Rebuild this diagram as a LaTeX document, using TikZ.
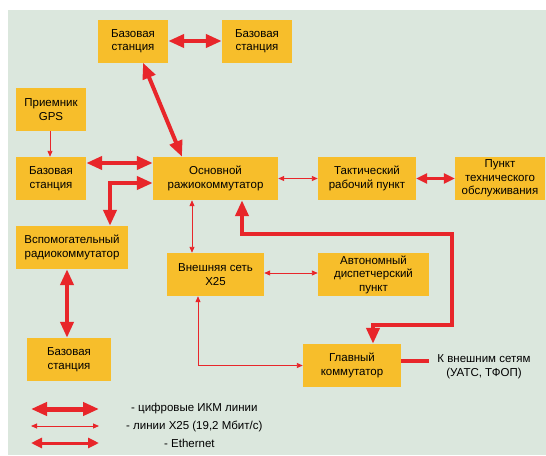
\documentclass[tikz,border=0pt]{standalone}
\usepackage{fontspec}
\setmainfont{Liberation Sans}
\usetikzlibrary{arrows.meta}

\definecolor{bggreen}{RGB}{219,231,221}
\definecolor{boxorange}{RGB}{247,190,43}
\definecolor{linered}{RGB}{232,38,42}

\begin{document}
\begin{tikzpicture}[x=1pt,y=-1pt,
    box/.style={fill=boxorange,align=center,inner sep=0pt,minimum height=43pt,
      font=\fontsize{11.5}{13.5}\selectfont},
    lbl/.style={align=center,inner sep=0pt,font=\fontsize{11.5}{13.5}\selectfont},
    ikm/.style={linered,line width=4pt,
      {Triangle[length=16pt,width=13pt]}-{Triangle[length=16pt,width=13pt]}},
    eth/.style={linered,line width=2.5pt,
      {Triangle[length=11pt,width=10pt]}-{Triangle[length=11pt,width=10pt]}},
    xline/.style={linered,line width=0.9pt,
      {Triangle[length=6pt,width=5pt]}-{Triangle[length=6pt,width=5pt]}}]

  \useasboundingbox (0,0) rectangle (546,455);
  \fill[bggreen] (8,10) rectangle (546,455);

  % blocks
  \node[box,minimum width=70pt]  (bsA)  at (133,41)    {Базовая\\станция};
  \node[box,minimum width=70pt]  (bsB)  at (257,41)    {Базовая\\станция};
  \node[box,minimum width=70pt]  (gps)  at (51,109.5)  {Приемник\\GPS};
  \node[box,minimum width=70pt]  (bsL)  at (51,178.5)  {Базовая\\станция};
  \node[box,minimum width=125pt] (core) at (215.5,178.5) {Основной\\ражиокоммутатор};
  \node[box,minimum width=98pt]  (tact) at (367,178.5) {Тактический\\рабочий пункт};
  \node[box,minimum width=90pt]  (serv) at (500,178.5) {Пункт\\технического\\обслуживания};
  \node[box,minimum width=112pt] (aux)  at (72,247.5)  {Вспомогательный\\радиокоммутатор};
  \node[box,minimum width=97pt]  (x25)  at (215.5,274.5) {Внешняя сеть\\X25};
  \node[box,minimum width=111pt] (auto) at (373.5,274.5) {Автономный\\диспетчерский\\пункт};
  \node[box,minimum width=84pt]  (bsD)  at (69,359.5)  {Базовая\\станция};
  \node[box,minimum width=98pt]  (main) at (352,365.5) {Главный\\коммутатор};
  \node[lbl] (ext) at (484,366.5) {К внешним сетям\\(УАТС, ТФОП)};

  % links
  \draw[ikm] (bsA) -- (bsB);
  \draw[ikm] ([xshift=10pt]bsA.south) -- ([xshift=-33.5pt]core.north);
  \draw[linered,line width=0.9pt,-{Triangle[length=6pt,width=5pt]}] ([xshift=-1pt]gps.south) -- ([xshift=-1pt]bsL.north);
  \draw[ikm] ([yshift=15.5pt]bsL.east) -- ([yshift=15.5pt]core.west);
  \draw[ikm,line join=miter] ([yshift=-4.5pt]core.west) -| ([xshift=38pt]aux.north);
  \draw[xline] (core.east) -- (tact.west);
  \draw[eth] (tact.east) -- (serv.west);
  \draw[xline] ([xshift=-23.5pt]core.south) -- ([xshift=-23.5pt]x25.north);
  \draw[xline] ([yshift=1.5pt]x25.east) -- ([yshift=1.5pt]auto.west);
  \draw[ikm] ([xshift=-5pt]aux.south) -- ([xshift=-2pt]bsD.north);
  \draw[xline] ([xshift=-17.5pt]x25.south) |- (main.west);

  \coordinate (turnA) at (452,234);
  \coordinate (turnB) at (452,325);
  \draw[ikm,line join=miter] ([xshift=26.5pt]core.south) |- (turnA) -- (turnB) -| ([xshift=21pt]main.north);

  \coordinate (extEnd) at (429,361);
  \draw[linered,line width=4pt] (main.east |- extEnd) -- (extEnd);

  % legend
  \coordinate (ikmL) at (31,409);  \coordinate (ikmR) at (99,409);
  \coordinate (x25L) at (31,426);  \coordinate (x25R) at (99,426);
  \coordinate (ethL) at (31,443);  \coordinate (ethR) at (99,443);
  \draw[ikm,line width=5pt] (ikmL) -- (ikmR);
  \draw[xline] (x25L) -- (x25R);
  \draw[eth,line width=3pt] (ethL) -- (ethR);
  \node[lbl,anchor=west] (ikmT) at (131,409) {- цифровые ИКМ линии};
  \node[lbl,anchor=west] (x25T) at (126,426) {- линии X25 (19,2 Мбит/с)};
  \node[lbl,anchor=west] (ethT) at (164,443) {- Ethernet};

\end{tikzpicture}
\end{document}
